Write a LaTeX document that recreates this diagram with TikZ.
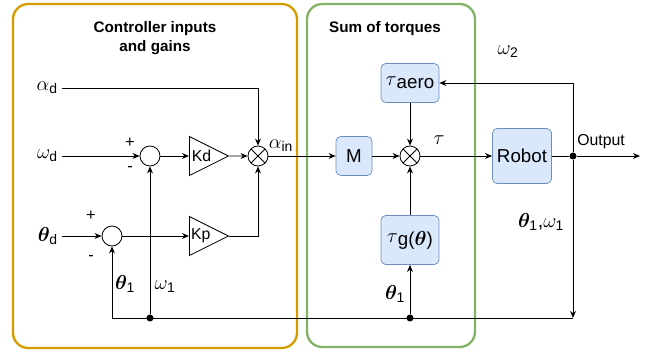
\documentclass[tikz,border=0pt]{standalone}
\usepackage{amsmath,bm}
\usepackage{fontspec}
\setmainfont{Liberation Sans}
\usetikzlibrary{calc,shapes.geometric,arrows.meta}
\definecolor{ctrlorange}{HTML}{D79B00}
\definecolor{sumgreen}{HTML}{82B366}
\definecolor{blkfill}{HTML}{DAE8FC}
\definecolor{blkline}{HTML}{6C8EBF}
\newcommand{\sub}[1]{\text{#1}}

\begin{document}
\begin{tikzpicture}[>={Stealth[length=6pt,width=5pt]}, x=0.03cm, y=-0.03cm, line width=0.7pt,
  lbl/.style={font=\fontsize{17}{19}\selectfont},
  blk/.style={draw=blkline, fill=blkfill, rounded corners=4pt, line width=0.6pt, font=\fontsize{16}{18}\selectfont, inner sep=0pt},
  sumpt/.style={draw, circle, minimum size=0.6cm, inner sep=0pt},
  mult/.style={sumpt, path picture={\draw (path picture bounding box.north west) -- (path picture bounding box.south east) (path picture bounding box.south west) -- (path picture bounding box.north east);}},
  gain/.style={draw, isosceles triangle, isosceles triangle stretches, minimum width=1.17cm, minimum height=1.17cm, inner sep=0pt, font=\fontsize{13.5}{15}\selectfont},
  dot/.style={fill, circle, minimum size=6pt, inner sep=0pt},
  sgn/.style={font=\fontsize{14}{16}\selectfont},
  frame/.style={rounded corners=13pt, line width=2pt}]
\useasboundingbox (0,0) rectangle (651,352);

% the two groups
\draw[ctrlorange, frame] (13,4) rectangle (297,348);
\draw[sumgreen, frame] (307,4) rectangle (475,347);
\node[font=\bfseries\fontsize{13}{16}\selectfont, align=center] (ttlctrl) at (155,38) {Controller inputs\\and gains};
\node[font=\bfseries\fontsize{13}{16}\selectfont] (ttlsum) at (385,29) {Sum of torques};

% inputs
\node[lbl, anchor=east] (ad) at (62,88) {$\alpha_{\sub{d}}$};
\node[lbl, anchor=east] (wd) at (62,156) {$\omega_{\sub{d}}$};
\node[lbl, anchor=east] (thd) at (62,236) {$\bm{\theta}_{\sub{d}}$};

% controller
\node[sumpt] (s1) at (150,156) {};
\node[sumpt] (s2) at (112,236) {};
\node[gain, anchor=west] (kd) at (189,156) {Kd};
\node[gain, anchor=west] (kp) at (189,236) {Kp};
\node[mult] (m1) at (258,156) {};

% torques
\node[blk, minimum width=1.08cm, minimum height=1.17cm] (mm) at (354,156) {M};
\node[mult] (m2) at (410,156) {};
\node[blk, minimum width=1.74cm, minimum height=1.17cm] (taero) at (410,83) {$\tau$\raisebox{-0.3ex}{aero}};
\node[blk, minimum width=1.74cm, minimum height=1.47cm] (tg) at (410,240) {$\tau$\raisebox{-0.3ex}{g($\bm{\theta}$)}};
\node[blk, minimum width=1.77cm, minimum height=1.65cm] (robot) at (522,156) {Robot};

% junctions
\node[dot] (jout) at (573,156) {};
\node[dot] (jw) at (150,318) {};
\node[dot] (jt) at (410,318) {};
\coordinate (outend) at (640,156);
\coordinate (fbcorner) at (573,318);

% signals
\draw[->] (ad.east) -| (m1.north);
\draw[->] (wd.east) -- (s1.west);
\draw[->] (s1.east) -- (kd.west);
\draw[->] (kd.east) -- (m1.west);
\draw[->] (thd.east) -- (s2.west);
\draw[->] (s2.east) -- (kp.west);
\draw[->] (kp.east) -| (m1.south);
\draw[->] (m1.east) -- (mm.west);
\draw[->] (mm.east) -- (m2.west);
\draw[->] (m2.east) -- (robot.west);
\draw (robot.east) -- (jout);
\draw[->] (jout) -- (outend);
\draw[->] (jout) |- (taero.east);
\draw[->] (taero.south) -- (m2.north);
\draw[->] (tg.north) -- (m2.south);
\draw[->] (jout) -- (fbcorner);
\draw[->] (fbcorner) -| (s2.south);
\draw[->] (jw) -- (s1.south);
\draw[->] (jt) -- (tg.south);

% labels
\node[lbl] (ain) at (281,146) {$\alpha_{\sub{in}}$};
\node[lbl] (tau) at (439,140) {$\tau$};
\node[lbl] (w2) at (508,52) {$\omega_{\sub{2}}$};
\node[lbl] (thw) at (541,222) {$\bm{\theta}_{\sub{1}}$,$\omega_{\sub{1}}$};
\node[font=\fontsize{13.5}{15}\selectfont] (outlbl) at (601,142) {Output};
\node[lbl] (th1a) at (125,284) {$\bm{\theta}_{\sub{1}}$};
\node[lbl] (w1) at (165,287) {$\omega_{\sub{1}}$};
\node[lbl] (th1b) at (395,294) {$\bm{\theta}_{\sub{1}}$};
\node[sgn] (p1) at (130,143) {+};
\node[sgn] (n1) at (130,169) {-};
\node[sgn] (p2) at (91,216) {+};
\node[sgn] (n2) at (91,258) {-};
\end{tikzpicture}
\end{document}
